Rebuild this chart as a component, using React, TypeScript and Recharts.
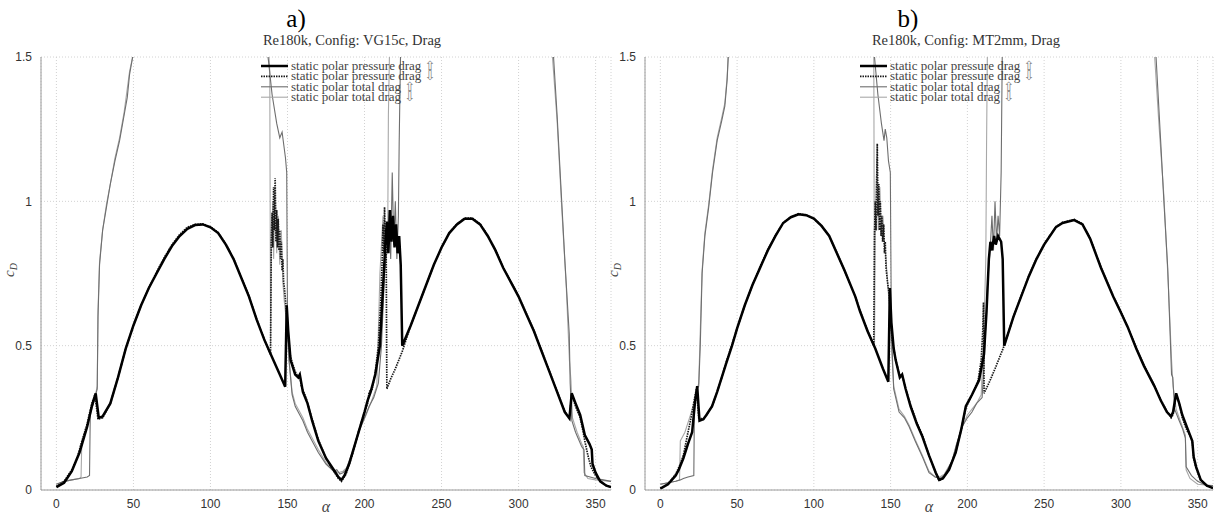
import React from 'react';
import { LineChart, Line, XAxis, YAxis, CartesianGrid } from 'recharts';

type Pt = [number, number];

const ALPHA_TICKS = [0, 50, 100, 150, 200, 250, 300, 350];
const CD_TICKS = [0, 0.5, 1, 1.5];

const LEGEND_LABELS = [
  'static polar pressure drag',
  'static polar pressure drag',
  'static polar total drag',
  'static polar total drag',
];
const LEGEND_ARROWS = ['\u21E7', '\u21E9', '\u21E7', '\u21E9'];

// ---------------- panel a) VG15c ----------------
const aPresUp: Pt[] = [
  [0, 0.01], [5, 0.025], [10, 0.065], [15, 0.13], [20, 0.22], [23, 0.29], [25.5, 0.335], [27.5, 0.25],
  [30, 0.255], [35, 0.3], [40, 0.39], [45, 0.49], [50, 0.57], [55, 0.64], [60, 0.7], [65, 0.75],
  [70, 0.8], [75, 0.845], [80, 0.88], [85, 0.905], [90, 0.918], [95, 0.92], [100, 0.91], [105, 0.89],
  [110, 0.85], [115, 0.8], [120, 0.735], [125, 0.67], [130, 0.59], [135, 0.52], [140, 0.46], [145, 0.4],
  [148.5, 0.358], [149.5, 0.64], [150.5, 0.55], [152, 0.45], [155, 0.4], [157, 0.39], [158, 0.4], [160, 0.34],
  [163, 0.3], [166, 0.24], [170, 0.17], [175, 0.11], [180, 0.07], [183, 0.045], [185, 0.035], [187, 0.05],
  [190, 0.09], [195, 0.18], [200, 0.27], [202, 0.31], [204, 0.34], [207, 0.4], [210, 0.5], [212, 0.7],
  [213.5, 0.85], [214.5, 0.93], [215.5, 0.82], [216.5, 0.97], [217.5, 0.86], [218.5, 0.95], [219.5, 0.84],
  [220.5, 0.92], [221.5, 0.82], [222.5, 0.88], [223.5, 0.78], [224.5, 0.5], [230, 0.57], [235, 0.64],
  [240, 0.71], [245, 0.78], [250, 0.84], [255, 0.89], [260, 0.92], [265, 0.94], [270, 0.94], [275, 0.92],
  [280, 0.88], [285, 0.83], [290, 0.77], [295, 0.72], [300, 0.67], [305, 0.61], [310, 0.55], [315, 0.48],
  [320, 0.41], [325, 0.34], [330, 0.27], [333, 0.248], [334.5, 0.335], [337, 0.3], [340, 0.26], [343, 0.19],
  [346, 0.16], [347.5, 0.14], [348, 0.09], [350, 0.06], [353, 0.03], [357, 0.015], [360, 0.01],
];

const aPresDown: Pt[] = [
  [0, 0.012], [5, 0.03], [10, 0.07], [14, 0.12], [16, 0.16], [20, 0.23], [23, 0.3], [25, 0.33], [27, 0.245],
  [30, 0.25], [35, 0.3], [40, 0.39], [45, 0.49], [50, 0.57], [55, 0.64], [60, 0.7], [65, 0.755], [70, 0.805],
  [75, 0.85], [80, 0.885], [85, 0.91], [90, 0.92], [95, 0.922], [100, 0.912], [105, 0.892], [110, 0.852],
  [115, 0.802], [120, 0.737], [125, 0.672], [130, 0.592], [135, 0.522], [139, 0.47], [139.5, 0.86], [140, 0.96],
  [140.5, 0.84], [141, 1.05], [141.5, 0.9], [142, 1.08], [142.5, 0.86], [143, 0.97], [143.5, 0.84], [144, 0.94],
  [144.5, 0.83], [145, 0.9], [145.5, 0.8], [146, 0.86], [146.5, 0.76], [147, 0.8], [147.5, 0.72], [148, 0.7],
  [149, 0.64], [150, 0.57], [151, 0.5], [152, 0.46], [155, 0.41], [157, 0.39], [158, 0.4], [159, 0.36],
  [162, 0.32], [166, 0.245], [170, 0.175], [175, 0.11], [180, 0.065], [183, 0.04], [185, 0.03], [188, 0.055],
  [192, 0.12], [196, 0.2], [200, 0.27], [202, 0.3], [203, 0.34], [205, 0.35], [207, 0.41], [209, 0.5],
  [210.5, 0.65], [211.5, 0.8], [212, 0.92], [212.5, 0.82], [213, 0.98], [213.5, 0.85], [214, 0.9], [214.5, 0.35],
  [217, 0.385], [220, 0.42], [224.5, 0.48], [230, 0.57], [235, 0.64], [240, 0.71], [245, 0.78], [250, 0.84],
  [255, 0.89], [260, 0.922], [265, 0.942], [270, 0.942], [275, 0.922], [280, 0.882], [285, 0.832], [290, 0.772],
  [295, 0.722], [300, 0.672], [305, 0.612], [310, 0.552], [315, 0.482], [320, 0.412], [325, 0.342], [330, 0.272],
  [333, 0.25], [334.5, 0.33], [337, 0.29], [340, 0.25], [342, 0.2], [343, 0.17], [345, 0.12], [347, 0.08],
  [350, 0.05], [353, 0.03], [357, 0.015], [360, 0.01],
];

const aTotalUp: Pt[] = [
  [0, 0.02], [5, 0.03], [10, 0.035], [15, 0.04], [20, 0.045], [21.5, 0.05], [22, 0.27], [24, 0.3], [25.5, 0.33],
  [26.5, 0.35], [27, 0.6], [28, 0.78], [30, 0.9], [32.5, 0.98], [35, 1.06], [38, 1.14], [41, 1.21], [44, 1.3],
  [46, 1.36], [47.5, 1.44], [49.5, 1.5], [52, 1.6], [60, 1.8], [90, 2.0], [120, 1.8], [135, 1.6], [137.6, 1.49],
  [140, 1.37], [143, 1.27], [145, 1.22], [146.5, 1.24], [148.7, 1.15], [149.5, 1.1], [150, 0.6], [151, 0.45],
  [153, 0.33], [155, 0.29], [158, 0.26], [160, 0.24], [163, 0.2], [166, 0.17], [170, 0.13], [175, 0.09],
  [180, 0.065], [182, 0.07], [184, 0.055], [186, 0.06], [188, 0.07], [192, 0.13], [196, 0.2], [200, 0.25],
  [203, 0.29], [206, 0.32], [209, 0.37], [211, 0.5], [213, 0.75], [215, 0.85], [216, 0.97], [217, 0.8],
  [218, 1.1], [219, 0.85], [220, 1.0], [221, 0.8], [222, 0.95], [222.5, 1.2], [223.5, 1.55], [226, 1.8],
  [260, 2.2], [300, 1.9], [320, 1.6], [322.7, 1.5], [325, 1.3], [328, 1.0], [330, 0.8], [332.9, 0.54],
  [333.5, 0.37], [334.6, 0.24], [337, 0.2], [341, 0.15], [342.5, 0.14], [343, 0.05], [350, 0.04], [355, 0.035],
  [360, 0.03],
];

const aTotalDown: Pt[] = [
  [0, 0.02], [5, 0.03], [10, 0.035], [15, 0.04], [16, 0.045], [16.5, 0.17], [19, 0.2], [22, 0.26], [25, 0.32],
  [26.5, 0.36], [27, 0.62], [28, 0.79], [30, 0.9], [32.5, 0.99], [35, 1.06], [38, 1.15], [41, 1.22], [44, 1.31],
  [47.5, 1.45], [49.5, 1.5], [60, 1.8], [100, 2.0], [130, 1.8], [137, 1.6], [138.5, 1.45], [139, 0.5],
  [139.5, 0.85], [140.5, 1.0], [141, 0.8], [142, 1.05], [143, 0.82], [144, 0.95], [145, 0.78], [146, 0.9],
  [147, 0.72], [148, 0.65], [149, 0.6], [150, 0.52], [151, 0.45], [153, 0.34], [155, 0.3], [158, 0.27],
  [160, 0.25], [163, 0.21], [166, 0.18], [170, 0.14], [175, 0.095], [180, 0.07], [183, 0.06], [186, 0.065],
  [189, 0.08], [193, 0.14], [197, 0.21], [201, 0.26], [204, 0.3], [208, 0.36], [209, 0.55], [210, 0.75],
  [211, 0.85], [212, 0.95], [213, 0.8], [214, 0.9], [215, 0.82], [215.5, 1.3], [216.5, 1.6], [230, 2.0],
  [300, 2.0], [320, 1.7], [322, 1.5], [325, 1.28], [328, 0.98], [331, 0.7], [333, 0.45], [334, 0.38],
  [335, 0.25], [338, 0.2], [341, 0.16], [342, 0.15], [342.5, 0.06], [345, 0.04], [350, 0.035], [360, 0.03],
];

// ---------------- panel b) MT2mm ----------------
const bPresUp: Pt[] = [
  [0, 0.005], [5, 0.02], [10, 0.05], [12, 0.07], [15, 0.11], [18, 0.16], [20.7, 0.2], [22.5, 0.3], [24, 0.36],
  [25.5, 0.24], [28, 0.245], [30, 0.26], [33.7, 0.29], [37, 0.34], [40, 0.39], [43, 0.44], [46.7, 0.5],
  [50, 0.56], [55, 0.64], [60, 0.71], [65, 0.77], [70, 0.83], [75, 0.88], [80, 0.925], [85, 0.945], [90, 0.955],
  [95, 0.952], [100, 0.94], [105, 0.915], [110, 0.88], [115, 0.82], [120, 0.76], [127, 0.67], [130, 0.62],
  [135, 0.55], [140, 0.49], [145, 0.42], [148.5, 0.375], [149.5, 0.7], [150.5, 0.58], [152, 0.49],
  [153.3, 0.45], [156, 0.39], [157.5, 0.4], [159.8, 0.35], [163, 0.29], [167, 0.23], [170.7, 0.185],
  [175, 0.12], [179.4, 0.06], [181.6, 0.035], [184, 0.04], [188, 0.07], [192.4, 0.13], [196, 0.21], [199, 0.29],
  [203, 0.33], [207.6, 0.38], [210.8, 0.47], [212.5, 0.62], [214, 0.8], [215, 0.86], [216, 0.83], [217.4, 0.88],
  [218.5, 0.85], [220, 0.88], [222, 0.86], [223, 0.8], [224, 0.5], [230, 0.6], [235, 0.67], [240, 0.74],
  [245, 0.8], [250, 0.85], [257.6, 0.91], [262, 0.925], [269.6, 0.935], [275, 0.92], [280, 0.87], [287, 0.77],
  [295, 0.67], [300, 0.615], [304.4, 0.565], [310, 0.49], [315, 0.43], [321.8, 0.36], [326, 0.31], [330, 0.27],
  [332.7, 0.255], [334, 0.27], [336, 0.335], [338, 0.3], [340, 0.26], [343.6, 0.21], [346.5, 0.17],
  [347.4, 0.115], [349, 0.08], [352, 0.035], [356, 0.015], [360, 0.007],
];

const bPresDown: Pt[] = [
  [0, 0.006], [5, 0.022], [10, 0.055], [13, 0.09], [15, 0.12], [18, 0.2], [20, 0.25], [22, 0.31], [23.5, 0.35],
  [25, 0.25], [28, 0.245], [30, 0.26], [33.7, 0.29], [37, 0.34], [40, 0.39], [43, 0.445], [46.7, 0.505],
  [50, 0.56], [55, 0.64], [60, 0.71], [65, 0.775], [70, 0.832], [75, 0.882], [80, 0.925], [85, 0.946],
  [90, 0.957], [95, 0.953], [100, 0.94], [105, 0.915], [110, 0.88], [115, 0.822], [120, 0.76], [127, 0.67],
  [130, 0.622], [135, 0.552], [139, 0.5], [139.5, 0.88], [140, 1.0], [140.5, 0.9], [141.3, 1.2], [141.8, 0.95],
  [142.3, 1.06], [142.8, 0.9], [143.3, 1.0], [143.8, 0.88], [144.3, 0.95], [144.8, 0.86], [145.5, 0.92],
  [146, 0.82], [146.5, 0.86], [147, 0.77], [148, 0.72], [149, 0.68], [150, 0.6], [151, 0.52], [152, 0.49],
  [153.3, 0.45], [156, 0.395], [157.5, 0.4], [159.8, 0.35], [163, 0.295], [167, 0.235], [170.7, 0.19],
  [175, 0.12], [179.4, 0.06], [181.6, 0.033], [184, 0.04], [188, 0.07], [192.4, 0.13], [196, 0.21],
  [199, 0.285], [203, 0.33], [207, 0.38], [209, 0.45], [210, 0.55], [210.5, 0.65], [210.9, 0.335], [214, 0.37],
  [218, 0.42], [224, 0.5], [230, 0.6], [235, 0.672], [240, 0.742], [245, 0.802], [250, 0.852], [257.6, 0.912],
  [262, 0.927], [269.6, 0.937], [275, 0.922], [280, 0.872], [287, 0.772], [295, 0.672], [300, 0.617],
  [304.4, 0.567], [310, 0.492], [315, 0.432], [321.8, 0.362], [326, 0.312], [330, 0.272], [332.7, 0.25],
  [334, 0.26], [336, 0.33], [338, 0.3], [340, 0.25], [342, 0.22], [343.6, 0.2], [345, 0.19], [346.5, 0.17],
  [347.4, 0.11], [349, 0.075], [352, 0.035], [356, 0.015], [360, 0.007],
];

const bTotalUp: Pt[] = [
  [0, 0.02], [5, 0.025], [10, 0.03], [13, 0.035], [15, 0.04], [18, 0.045], [21.8, 0.05], [22.2, 0.3], [24, 0.35],
  [25, 0.36], [26, 0.5], [27.2, 0.75], [29, 0.88], [31.5, 0.98], [34, 1.1], [37, 1.21], [40, 1.28], [42, 1.33],
  [43.5, 1.42], [44.2, 1.5], [50, 1.8], [90, 2.1], [130, 1.8], [137, 1.6], [139.5, 1.5], [141.7, 1.37],
  [144, 1.27], [145.7, 1.21], [146.5, 1.25], [147.5, 1.22], [148.6, 1.14], [149.8, 1.1], [150.5, 0.55],
  [152, 0.35], [155.5, 0.27], [159, 0.25], [162, 0.22], [166, 0.17], [170.7, 0.115], [175, 0.06], [179, 0.045],
  [182, 0.04], [185, 0.05], [190, 0.1], [193, 0.16], [196.7, 0.22], [200, 0.25], [203, 0.27], [206, 0.3],
  [209.6, 0.32], [211, 0.45], [213, 0.7], [215, 0.85], [216, 0.95], [217, 0.83], [218, 1.0], [219, 0.86],
  [220, 0.95], [221, 0.88], [222, 1.1], [222.7, 1.5], [224, 1.8], [270, 2.2], [315, 1.8], [322.9, 1.5],
  [326, 1.2], [328, 1.0], [330.5, 0.77], [332, 0.55], [333, 0.4], [333.8, 0.39], [335, 0.28], [338, 0.24],
  [340.3, 0.21], [342, 0.18], [342.5, 0.08], [346, 0.05], [350, 0.03], [356, 0.015], [360, 0.015],
];

const bTotalDown: Pt[] = [
  [0, 0.02], [5, 0.025], [10, 0.03], [12.5, 0.035], [13, 0.17], [16, 0.2], [19, 0.25], [22, 0.3], [24, 0.35],
  [25, 0.37], [26, 0.55], [27.2, 0.76], [29, 0.89], [31.5, 0.99], [34, 1.11], [37, 1.22], [40, 1.29], [42, 1.34],
  [43.5, 1.43], [44.2, 1.5], [60, 1.9], [110, 2.0], [135, 1.7], [139, 1.6], [139.5, 0.5], [140, 0.9],
  [141, 1.15], [142, 0.9], [143, 1.05], [144, 0.88], [145, 0.95], [146, 0.85], [147, 0.8], [148, 0.72],
  [149, 0.65], [150, 0.55], [152, 0.36], [155.5, 0.28], [159, 0.255], [162, 0.225], [166, 0.175],
  [170.7, 0.12], [175, 0.065], [179, 0.045], [182, 0.045], [185, 0.055], [190, 0.1], [193, 0.16],
  [196.7, 0.22], [200, 0.26], [203, 0.28], [206, 0.3], [209, 0.33], [210, 0.45], [211, 0.6], [212, 0.8],
  [212.5, 1.2], [213, 1.5], [215, 1.8], [280, 2.1], [318, 1.7], [322, 1.5], [325, 1.25], [328, 1.02],
  [331, 0.7], [333, 0.45], [334, 0.36], [336, 0.28], [340, 0.22], [342, 0.19], [342.5, 0.07], [345, 0.04],
  [350, 0.02], [360, 0.015],
];

const toRows = (pts: Pt[]) => pts.map(([a, v]) => ({ a, v }));

const serif = '"Liberation Serif", "Times New Roman", serif';
const sans = '"Liberation Sans", Arial, Helvetica, sans-serif';

const STYLES = [
  { stroke: '#000000', width: 2.5, dash: undefined as string | undefined },
  { stroke: '#1a1a1a', width: 1.7, dash: '1.5 1' },
  { stroke: '#6e6e6e', width: 1.1, dash: undefined as string | undefined },
  { stroke: '#a8a8a8', width: 1.1, dash: undefined as string | undefined },
];

type PanelProps = {
  left: number;
  width: number;
  marginRight: number;
  letter: string;
  subtitle: string;
  letterX: number;
  subX: number;
  legendX: number;
  alphaX: number;
  series: Pt[][];
};

function Panel(p: PanelProps) {
  const tickStyle = { fill: '#333', fontSize: 12, fontFamily: sans };
  const order = [3, 2, 1, 0];
  return (
    <div style={{ position: 'absolute', left: p.left, top: 0, width: p.width, height: 515 }}>
      <LineChart width={p.width} height={515} margin={{ top: 57, right: p.marginRight, bottom: 0, left: 5 }}>
        <CartesianGrid stroke="#d2d2d2" strokeDasharray="1 2" />
        <XAxis
          type="number"
          dataKey="a"
          domain={[-10, 360]}
          ticks={ALPHA_TICKS}
          allowDataOverflow
          height={25}
          tickLine={false}
          tick={tickStyle}
          stroke="#9a9a9a"
          tickMargin={3}
          interval={0}
        />
        <YAxis
          type="number"
          domain={[0, 1.5]}
          ticks={CD_TICKS}
          allowDataOverflow
          width={36}
          tickLine={false}
          tick={tickStyle}
          stroke="#9a9a9a"
          tickMargin={3}
          interval={0}
        />
        {order.map((i) => (
          <Line
            key={i}
            data={toRows(p.series[i])}
            dataKey="v"
            type="linear"
            stroke={STYLES[i].stroke}
            strokeWidth={STYLES[i].width}
            strokeDasharray={STYLES[i].dash}
            dot={false}
            activeDot={false}
            isAnimationActive={false}
          />
        ))}
      </LineChart>
      <svg
        width={p.width}
        height={515}
        style={{ position: 'absolute', left: 0, top: 0, pointerEvents: 'none' }}
      >
        <text x={p.letterX} y={27} textAnchor="middle" fontFamily={serif} fontSize={25} fill="#000">
          {p.letter}
        </text>
        <text x={p.subX} y={45} textAnchor="middle" fontFamily={serif} fontSize={14.5} fill="#333">
          {p.subtitle}
        </text>
        {LEGEND_LABELS.map((lab, i) => {
          const y = 66 + i * 10.4;
          return (
            <g key={i}>
              <line
                x1={p.legendX}
                x2={p.legendX + 27}
                y1={y}
                y2={y}
                stroke={STYLES[i].stroke}
                strokeWidth={STYLES[i].width}
                strokeDasharray={STYLES[i].dash}
              />
              <text x={p.legendX + 30} y={y + 4} fontFamily={serif} fontSize={13} fill="#444">
                {lab + ' '}
                <tspan fontFamily='"DejaVu Sans", sans-serif' fontSize={13} fill="#808080">
                  {LEGEND_ARROWS[i]}
                </tspan>
              </text>
            </g>
          );
        })}
        <text
          transform="translate(14,270) rotate(-90)"
          textAnchor="middle"
          fontFamily={serif}
          fontStyle="italic"
          fontSize={15}
          fill="#444"
        >
          c
          <tspan fontSize={10} dy={3}>
            D
          </tspan>
        </text>
        <text x={p.alphaX} y={512} textAnchor="middle" fontFamily={serif} fontStyle="italic" fontSize={16} fill="#444">
          α
        </text>
      </svg>
    </div>
  );
}

export default function App() {
  return (
    <div style={{ position: 'absolute', left: 0, top: 0, width: 1214, height: 515, background: '#fff', overflow: 'hidden' }}>
      <Panel
        left={0}
        width={620}
        marginRight={9}
        letter="a)"
        subtitle="Re180k, Config: VG15c, Drag"
        letterX={296}
        subX={352}
        legendX={261}
        alphaX={326}
        series={[aPresUp, aPresDown, aTotalUp, aTotalDown]}
      />
      <Panel
        left={604}
        width={610}
        marginRight={1}
        letter="b)"
        subtitle="Re180k, Config: MT2mm, Drag"
        letterX={304}
        subX={362}
        legendX={256}
        alphaX={325}
        series={[bPresUp, bPresDown, bTotalUp, bTotalDown]}
      />
    </div>
  );
}
